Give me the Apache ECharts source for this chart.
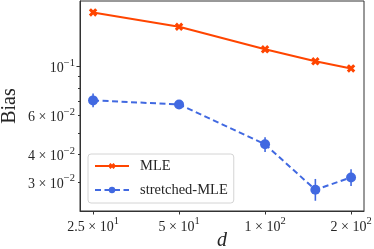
<!DOCTYPE html>
<html><head><meta charset="utf-8">
<script src="https://cdn.jsdelivr.net/npm/echarts@6/dist/echarts.min.js"></script>
<style>html,body{margin:0;padding:0;background:#fff}#c{width:374px;height:249px}</style>
</head><body><div id="c"></div>
<script>
const dValues = [25, 50, 100, 150, 200];
const mleBias = [0.1757, 0.1514, 0.1197, 0.1056, 0.0980];
const mleLow  = [0.1735, 0.1495, 0.1183, 0.1043, 0.0968];
const mleHigh = [0.1780, 0.1533, 0.1211, 0.1069, 0.0992];
const strBias = [0.0703, 0.0674, 0.0445, 0.0277, 0.0315];
const strLow  = [0.0654, 0.0648, 0.0410, 0.0247, 0.0288];
const strHigh = [0.0756, 0.0703, 0.0479, 0.0310, 0.0343];
const xTickValues = [25, 50, 100, 200];
const xTickMant = ['2.5 × 10', '5 × 10', '1 × 10', '2 × 10'];
const xTickExp = ['1', '1', '2', '2'];
const yTickValues = [0.03, 0.04, 0.06, 0.1];
const yTickMant = ['3 × 10', '4 × 10', '6 × 10', '10'];
const yTickExp = ['−2', '−2', '−2', '−1'];
const yMinorTicks = [0.03, 0.04, 0.05, 0.06, 0.07, 0.08, 0.09];
const yMajorTicks = [0.1];

const FONT = 'Liberation Serif';
const TXT = '#262626';
const C1 = '#FF4500', C2 = '#4169E1';
const xPath = 'path://M-1.1,-3.3L1.1,-3.3L1.1,-1.1L3.3,-1.1L3.3,1.1L1.1,1.1L1.1,3.3L-1.1,3.3L-1.1,1.1L-3.3,1.1L-3.3,-1.1L-1.1,-1.1Z';

function fmt(vals, mant, exp) {
  return function (v) {
    let i = vals.findIndex(t => Math.abs(t - v) / t < 1e-6);
    if (i < 0) return '';
    return '{m|' + mant[i] + '}{s|' + exp[i] + '}';
  };
}
const rich = {
  m: { fontFamily: FONT, fontSize: 14, color: TXT, lineHeight: 18, verticalAlign: 'bottom' },
  s: { fontFamily: FONT, fontSize: 10.5, color: TXT, lineHeight: 12, verticalAlign: 'top' }
};

function pairs(ys) { return dValues.map((d, i) => [d, ys[i]]); }
function errData(lo, hi) { return dValues.map((d, i) => [d, lo[i], hi[i]]); }
function errSeries(lo, hi, color) {
  return {
    type: 'custom', silent: true, z: 1,
    data: errData(lo, hi),
    encode: { x: 0, y: [1, 2] },
    renderItem: function (params, api) {
      const p1 = api.coord([api.value(0), api.value(1)]);
      const p2 = api.coord([api.value(0), api.value(2)]);
      return { type: 'line', shape: { x1: p1[0], y1: p1[1], x2: p2[0], y2: p2[1] },
               style: { stroke: color, lineWidth: 1.6 } };
    }
  };
}

const chart = echarts.init(document.getElementById('c'));
chart.setOption({
  animation: false,
  grid: { left: 80, right: 10, top: 1, bottom: 38, show: true, borderColor: '#333', borderWidth: 1,
          containLabel: false, outerBoundsMode: 'none' },
  xAxis: {
    type: 'log', min: 22.5, max: 222,
    name: 'd', nameLocation: 'middle', nameGap: 20, nameMoveOverlap: false,
    nameTextStyle: { fontFamily: FONT, fontStyle: 'italic', fontSize: 20, color: TXT },
    axisLine: { lineStyle: { color: '#333' } },
    axisTick: { customValues: xTickValues, length: 3.5, lineStyle: { color: '#333' } },
    axisLabel: { customValues: xTickValues, formatter: fmt(xTickValues, xTickMant, xTickExp), rich: rich, margin: 5 },
    splitLine: { show: false }, minorTick: { show: false }
  },
  yAxis: [{
    type: 'log', min: 0.0222, max: 0.198,
    name: 'Bias', nameLocation: 'middle', nameGap: 60, nameMoveOverlap: false,
    nameTextStyle: { fontFamily: FONT, fontSize: 20, color: TXT },
    axisLine: { show: true, lineStyle: { color: '#333' } },
    axisTick: { customValues: yMinorTicks, length: 2, lineStyle: { color: '#333' } },
    axisLabel: { customValues: yTickValues, formatter: fmt(yTickValues, yTickMant, yTickExp), rich: rich, margin: 5 },
    splitLine: { show: false }, minorTick: { show: false }
  }, {
    type: 'log', min: 0.0222, max: 0.198, position: 'left',
    axisLine: { show: false },
    axisTick: { customValues: yMajorTicks, length: 3.5, lineStyle: { color: '#333' } },
    axisLabel: { show: false }, splitLine: { show: false }, minorTick: { show: false }
  }],
  legend: {
    orient: 'vertical', left: 88, top: 154,
    backgroundColor: '#fff', borderColor: '#d4d4d4', borderWidth: 1, borderRadius: 3,
    padding: [3, 6, 4, 6], itemWidth: 34, itemHeight: 8, itemGap: 6,
    textStyle: { fontFamily: FONT, fontSize: 14.5, color: TXT, lineHeight: 18, padding: [0, 0, 0, 6] },
    data: ['MLE', 'stretched-MLE']
  },
  series: [
    errSeries(mleLow, mleHigh, C1),
    errSeries(strLow, strHigh, C2),
    { name: 'MLE', type: 'line', data: pairs(mleBias), z: 3,
      symbol: xPath, symbolSize: 9, symbolRotate: 45, itemStyle: { color: C1 },
      lineStyle: { color: C1, width: 2 } },
    { name: 'stretched-MLE', type: 'line', data: pairs(strBias), z: 3,
      symbol: 'circle', symbolSize: 10, itemStyle: { color: C2 },
      lineStyle: { color: C2, width: 2, type: [6, 3.5] } }
  ]
});
</script></body></html>
